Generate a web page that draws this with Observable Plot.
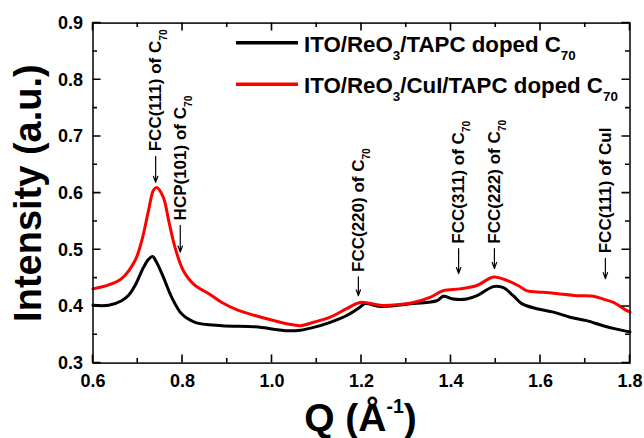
<!DOCTYPE html>
<html><head><meta charset="utf-8">
<script src="https://cdn.jsdelivr.net/npm/d3@7"></script>
<script src="https://cdn.jsdelivr.net/npm/@observablehq/plot@0.6"></script>
<style>
body{margin:0;background:#fff}
svg text{font-family:"Liberation Sans",Arial,Helvetica,sans-serif;font-weight:bold}
</style>
</head><body><div id="chart"></div>
<script>
// ---- data ----
const qBlack = [0.600,0.635,0.664,0.680,0.694,0.713,0.724,0.733,0.742,0.757,0.776,0.798,0.828,0.888,0.962,1.036,1.063,1.093,1.130,1.167,1.197,1.208,1.242,1.316,1.368,1.383,1.405,1.435,1.458,1.495,1.517,1.539,1.558,1.592,1.629,1.666,1.703,1.740,1.770,1.800];
const iBlack = [0.402,0.402,0.410,0.420,0.437,0.469,0.483,0.488,0.478,0.452,0.416,0.387,0.372,0.366,0.364,0.357,0.358,0.363,0.372,0.384,0.399,0.405,0.400,0.405,0.410,0.418,0.413,0.413,0.419,0.435,0.433,0.419,0.405,0.396,0.390,0.381,0.375,0.366,0.360,0.355];
const qRed = [0.600,0.635,0.664,0.694,0.709,0.724,0.735,0.742,0.757,0.769,0.783,0.802,0.828,0.858,0.888,0.925,0.962,0.999,1.036,1.063,1.093,1.130,1.167,1.197,1.242,1.279,1.316,1.353,1.383,1.420,1.458,1.495,1.525,1.550,1.569,1.606,1.644,1.681,1.718,1.740,1.763,1.792,1.800];
const iRed = [0.431,0.438,0.449,0.481,0.516,0.569,0.605,0.610,0.593,0.552,0.505,0.463,0.437,0.423,0.407,0.393,0.384,0.376,0.369,0.366,0.372,0.381,0.396,0.407,0.402,0.403,0.407,0.416,0.428,0.431,0.437,0.452,0.446,0.437,0.428,0.425,0.422,0.419,0.418,0.413,0.407,0.393,0.390];

const seriesNames = ["ITO/ReO_{3}/TAPC doped C_{70}", "ITO/ReO_{3}/CuI/TAPC doped C_{70}"];
const seriesColors = ["#000000", "#ff0000"];

const annLabels = ["FCC(111) of C_{70}", "HCP(101) of C_{70}", "FCC(220) of C_{70}", "FCC(311) of C_{70}", "FCC(222) of C_{70}", "FCC(111) of CuI"];
const annQ = [0.740, 0.795, 1.193, 1.417, 1.497, 1.745];
const annTip = [0.619, 0.496, 0.419, 0.458, 0.467, 0.449];
const annStart = [0.665, 0.543, 0.452, 0.502, 0.502, 0.485];

const xTicksMajor = [0.6, 0.8, 1.0, 1.2, 1.4, 1.6, 1.8];
const xTicksMinor = [0.7, 0.9, 1.1, 1.3, 1.5, 1.7];
const yTicksMajor = [0.3, 0.4, 0.5, 0.6, 0.7, 0.8, 0.9];
const yTicksMinor = [0.35, 0.45, 0.55, 0.65, 0.75, 0.85];

const xLabel = "Q (Å^{-1})";
const yLabel = "Intensity (a.u.)";

// ---- build tables ----
const black = qBlack.map((q, i) => ({q, v: iBlack[i]}));
const red = qRed.map((q, i) => ({q, v: iRed[i]}));
const ann = annLabels.map((label, i) => ({label, q: annQ[i], tip: annTip[i], start: annStart[i]}));

const plot = Plot.plot({
  width: 644, height: 438,
  marginLeft: 92.5, marginRight: 14.5, marginTop: 22.6, marginBottom: 75.4,
  x: {domain: [0.6, 1.8], label: null},
  y: {domain: [0.3, 0.9], label: null},
  style: {background: "#fff", fontFamily: "'Liberation Sans', Arial, sans-serif", fontWeight: "bold", fontSize: "18px", color: "black"},
  marks: [
    Plot.line(black, {x: "q", y: "v", stroke: seriesColors[0], strokeWidth: 3, strokeLinejoin: "round", curve: "catmull-rom"}),
    Plot.line(red, {x: "q", y: "v", stroke: seriesColors[1], strokeWidth: 3, strokeLinejoin: "round", curve: "catmull-rom"}),
    Plot.arrow(ann, {x1: "q", x2: "q", y1: "start", y2: "tip", stroke: "black", strokeWidth: 1.2, headLength: 8, headAngle: 40}),
    Plot.text(ann, {x: "q", y: "start", text: "label", rotate: -90, textAnchor: "start", lineAnchor: "middle", dy: -5, fontSize: 17, fill: "black"}),
    Plot.axisX({ticks: xTicksMajor, tickSize: 0, tickPadding: 11, tickFormat: d3.format(".1f"), fontSize: 18, label: null}),
    Plot.axisY({ticks: yTicksMajor, tickSize: 0, tickPadding: 10, tickFormat: d3.format(".1f"), fontSize: 18, label: null}),
    Plot.frame({stroke: "black", strokeWidth: 1.5}),
    Plot.text([xLabel], {text: d => d, frameAnchor: "bottom", lineAnchor: "bottom", dy: 67.4, dx: -1, fontSize: 39, fill: "black"}),
    Plot.text([yLabel], {text: d => d, frameAnchor: "left", rotate: -90, lineAnchor: "bottom", textAnchor: "middle", dx: -52, fontSize: 38, fill: "black"})
  ]
});
document.getElementById("chart").appendChild(plot);

const svg = d3.select(plot);
const sx = plot.scale("x"), sy = plot.scale("y");
const [x0, x1] = sx.range, [y0, y1] = sy.range; // y0 bottom, y1 top

// inward ticks on all four sides, positioned through Plot's own scales
const tg = svg.append("g").attr("stroke", "black").attr("stroke-width", 1.6).attr("fill", "none");
const MAJ = 8, MIN = 4.5;
const tickPath = [];
[[xTicksMajor, MAJ], [xTicksMinor, MIN]].forEach(([vals, len]) => vals.forEach(v => {
  const px = sx.apply(v);
  tickPath.push(`M${px},${y0}V${y0 - len}`, `M${px},${y1}V${y1 + len}`);
}));
[[yTicksMajor, MAJ], [yTicksMinor, MIN]].forEach(([vals, len]) => vals.forEach(v => {
  const py = sy.apply(v);
  tickPath.push(`M${x0},${py}H${x0 + len}`, `M${x1},${py}H${x1 - len}`);
}));
tg.append("path").attr("d", tickPath.join(""));

// legend inside the frame
const leg = svg.append("g").attr("text-anchor", "start");
const legY = [42.7, 84.3];
seriesNames.forEach((name, i) => {
  leg.append("line").attr("x1", 236).attr("x2", 298).attr("y1", legY[i]).attr("y2", legY[i])
    .attr("stroke", seriesColors[i]).attr("stroke-width", 3.5);
  leg.append("text").attr("x", 304).attr("y", legY[i] + 9).attr("font-size", 22.3)
    .attr("text-anchor", "start").attr("fill", "black").text(name);
});

// turn _{..} and ^{..} into real subscripts / superscripts
const NS = "http://www.w3.org/2000/svg";
plot.querySelectorAll("text").forEach(el => {
  const s = el.textContent;
  if (!/[_^]\{/.test(s)) return;
  const size = parseFloat(getComputedStyle(el).fontSize);
  const parts = s.split(/([_^]\{[^}]*\})/).filter(p => p !== "");
  el.textContent = "";
  let shift = 0;
  parts.forEach(p => {
    const m = p.match(/^([_^])\{([^}]*)\}$/);
    const t = document.createElementNS(NS, "tspan");
    if (m) {
      const target = m[1] === "_" ? 0.36 * size : -0.45 * size;
      t.setAttribute("dy", target - shift);
      shift = target;
      t.setAttribute("font-size", (m[1] === "_" ? 0.6 : 0.5) * size);
      t.textContent = m[2];
    } else {
      if (shift) t.setAttribute("dy", -shift);
      shift = 0;
      t.textContent = p;
    }
    el.appendChild(t);
  });
});
</script>
</body></html>
